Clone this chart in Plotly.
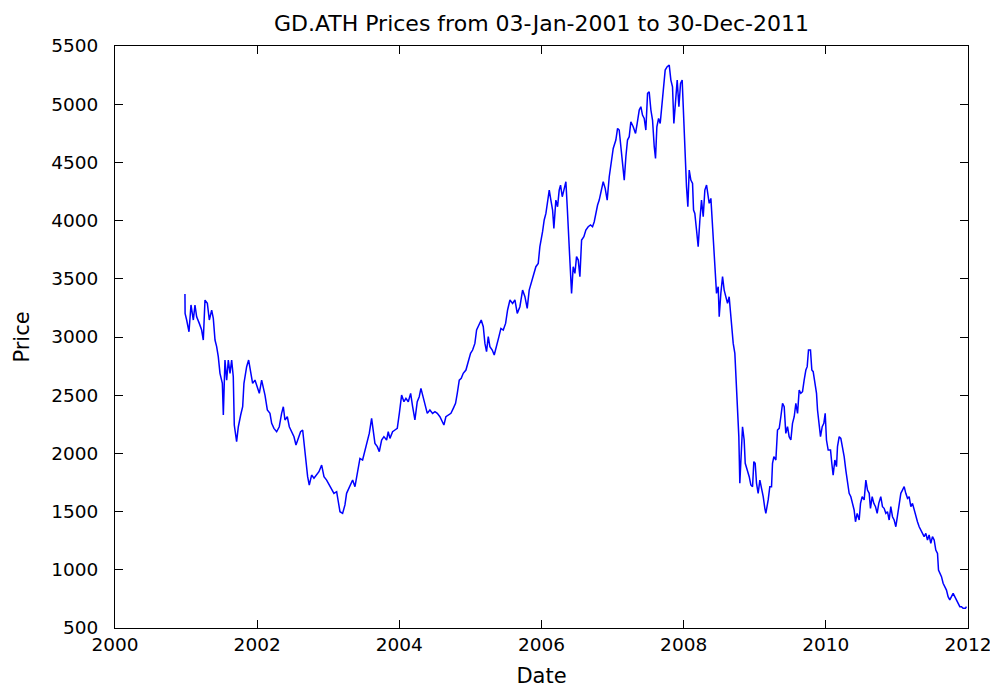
import plotly.graph_objects as go

# Decimal-year dates and closing prices
years = [
    2000.984, 2000.986, 2001.008, 2001.041, 2001.069, 2001.102, 2001.125, 2001.149, 2001.186, 2001.219,
    2001.242, 2001.266, 2001.299, 2001.327, 2001.360, 2001.383, 2001.407, 2001.430, 2001.453, 2001.477,
    2001.510, 2001.524, 2001.533, 2001.547, 2001.571, 2001.594, 2001.618, 2001.641, 2001.664, 2001.678,
    2001.711, 2001.735, 2001.768, 2001.796, 2001.814, 2001.852, 2001.880, 2001.908, 2001.936, 2001.969,
    2002.002, 2002.030, 2002.063, 2002.086, 2002.110, 2002.143, 2002.180, 2002.204, 2002.236, 2002.274,
    2002.311, 2002.344, 2002.368, 2002.391, 2002.424, 2002.452, 2002.485, 2002.518, 2002.546, 2002.579,
    2002.611, 2002.640, 2002.658, 2002.686, 2002.710, 2002.733, 2002.766, 2002.799, 2002.836, 2002.869,
    2002.907, 2002.940, 2002.977, 2003.015, 2003.047, 2003.080, 2003.118, 2003.141, 2003.165, 2003.202,
    2003.220, 2003.235,
    2003.258, 2003.305, 2003.343, 2003.376, 2003.399, 2003.422, 2003.446, 2003.483, 2003.516, 2003.540,
    2003.577, 2003.610, 2003.633, 2003.657, 2003.690, 2003.718, 2003.751, 2003.783, 2003.821, 2003.844,
    2003.868, 2003.905, 2003.938, 2003.971, 2004.000, 2004.032, 2004.065, 2004.093, 2004.126, 2004.159,
    2004.187, 2004.219, 2004.252, 2004.280, 2004.304, 2004.337, 2004.365, 2004.393, 2004.430, 2004.468,
    2004.501, 2004.534, 2004.571, 2004.609, 2004.627, 2004.655, 2004.688, 2004.726, 2004.759, 2004.791,
    2004.815, 2004.843, 2004.871, 2004.899, 2004.937, 2004.970, 2005.002, 2005.031, 2005.063, 2005.087,
    2005.124, 2005.152, 2005.181, 2005.204, 2005.227, 2005.251, 2005.274, 2005.307, 2005.335, 2005.368,
    2005.401, 2005.429, 2005.462, 2005.495, 2005.523, 2005.556, 2005.593, 2005.626, 2005.659, 2005.696,
    2005.734, 2005.767, 2005.799, 2005.827, 2005.860, 2005.884, 2005.921, 2005.954, 2005.977,
    2006.015, 2006.038, 2006.062, 2006.085, 2006.109, 2006.132, 2006.156, 2006.174, 2006.202, 2006.226,
    2006.249, 2006.268, 2006.292, 2006.315, 2006.343, 2006.362, 2006.381, 2006.399, 2006.423, 2006.446,
    2006.470, 2006.493, 2006.517, 2006.540, 2006.564, 2006.596, 2006.624, 2006.657, 2006.690, 2006.718,
    2006.742, 2006.765, 2006.789, 2006.812, 2006.845, 2006.868, 2006.896, 2006.924, 2006.953, 2006.985,
    2007.009, 2007.046, 2007.070, 2007.093, 2007.117, 2007.140, 2007.164, 2007.187, 2007.210, 2007.234,
    2007.257, 2007.290, 2007.323, 2007.346, 2007.375, 2007.398, 2007.421, 2007.445, 2007.468, 2007.492,
    2007.515, 2007.539, 2007.562, 2007.586, 2007.604, 2007.623, 2007.647, 2007.670, 2007.693, 2007.717,
    2007.740, 2007.768, 2007.797, 2007.820, 2007.843, 2007.862, 2007.886, 2007.909, 2007.933, 2007.956,
    2007.979, 2007.998, 2008.021, 2008.040, 2008.059, 2008.078, 2008.101, 2008.125, 2008.139, 2008.157,
    2008.181, 2008.204, 2008.228, 2008.251, 2008.275, 2008.298, 2008.322, 2008.359,
    2008.383, 2008.401, 2008.415, 2008.439, 2008.462, 2008.486, 2008.500, 2008.523, 2008.547, 2008.570,
    2008.594, 2008.617, 2008.640, 2008.659, 2008.678, 2008.697, 2008.720, 2008.744, 2008.758, 2008.776,
    2008.790, 2008.814, 2008.828, 2008.851, 2008.866, 2008.894, 2008.922, 2008.945, 2008.969, 2008.987,
    2009.006, 2009.025, 2009.048, 2009.072, 2009.095, 2009.119, 2009.142, 2009.156, 2009.189, 2009.212,
    2009.236, 2009.250, 2009.269, 2009.297, 2009.320, 2009.344, 2009.367, 2009.391, 2009.414, 2009.437,
    2009.461, 2009.484, 2009.508, 2009.531, 2009.555, 2009.578, 2009.602, 2009.625, 2009.648, 2009.672,
    2009.695, 2009.719, 2009.738, 2009.756, 2009.784, 2009.803, 2009.822, 2009.845, 2009.869, 2009.883,
    2009.902, 2009.925, 2009.949, 2009.972, 2009.991, 2010.009, 2010.033,
    2010.066, 2010.084, 2010.103, 2010.127, 2010.150, 2010.164, 2010.188, 2010.211, 2010.234, 2010.258,
    2010.281, 2010.305, 2010.328, 2010.352, 2010.375, 2010.398, 2010.417, 2010.441, 2010.469, 2010.488,
    2010.511, 2010.539, 2010.563, 2010.586, 2010.610, 2010.628, 2010.652, 2010.675, 2010.699, 2010.722,
    2010.745, 2010.773, 2010.797, 2010.820, 2010.844, 2010.867, 2010.891, 2010.914, 2010.938, 2010.961,
    2010.985, 2011.008, 2011.031, 2011.055, 2011.078, 2011.102, 2011.125, 2011.149, 2011.172, 2011.196,
    2011.219, 2011.242, 2011.266, 2011.289, 2011.313, 2011.336, 2011.360, 2011.383, 2011.407, 2011.430,
    2011.453, 2011.477, 2011.500, 2011.524, 2011.547, 2011.571, 2011.585, 2011.603, 2011.627, 2011.650,
    2011.674, 2011.697, 2011.720, 2011.744, 2011.767, 2011.791, 2011.814, 2011.838, 2011.861, 2011.885,
    2011.908, 2011.931, 2011.964, 2011.978,
]

prices = [
    3369, 3203, 3146, 3045, 3275, 3146, 3275, 3174, 3117, 3060,
    2974, 3317, 3289, 3146, 3231, 3160, 2974, 2917, 2831, 2688,
    2602, 2330, 2516, 2802, 2630, 2802, 2688, 2802, 2659, 2244,
    2101, 2229, 2330, 2401, 2602, 2745, 2802, 2716, 2602, 2630,
    2573, 2516, 2630, 2573, 2501, 2373, 2344, 2258, 2215, 2186,
    2229, 2344, 2401, 2287, 2315, 2229, 2186, 2143, 2072, 2129,
    2186, 2201, 2086, 1943, 1800, 1728, 1814, 1786, 1814, 1843,
    1900, 1800, 1771, 1728, 1700, 1657, 1671, 1600, 1499, 1485,
    1530, 1557,
    1657, 1714, 1771, 1714, 1800, 1886, 1957, 1943, 2029, 2101,
    2172, 2301, 2172, 2086, 2058, 2015, 2115, 2144, 2115, 2186,
    2129, 2186, 2201, 2215, 2344, 2501, 2444, 2473, 2444, 2516,
    2401, 2287, 2444, 2487, 2559, 2487, 2416, 2344, 2373, 2344,
    2358, 2344, 2315, 2272, 2244, 2315, 2330, 2344, 2387, 2430,
    2516, 2630, 2645, 2688, 2716, 2802, 2859, 2888, 2945, 3060,
    3117, 3146, 3088, 2945, 2874, 3003, 2917, 2888, 2845, 2917,
    3003, 3074, 3060, 3117, 3232, 3318, 3289, 3318, 3203, 3260,
    3403, 3346, 3246, 3403, 3475, 3518, 3604, 3632, 3776,
    3905, 4005, 4062, 4148, 4262, 4176, 4091, 3933, 4176, 4119,
    4262, 4305, 4205, 4262, 4334, 4119, 3833, 3661, 3375, 3604,
    3547, 3690, 3661, 3518, 3833, 3862, 3919, 3947, 3962, 3947,
    3990, 4076, 4134, 4176, 4291, 4334, 4277, 4176, 4377, 4520,
    4620, 4692, 4792, 4778, 4635, 4463, 4348, 4549, 4692, 4721,
    4849, 4806, 4749, 4835, 4950, 4978, 4907, 4878, 4778, 5093,
    5107, 4950, 4864, 4635, 4534, 4806, 4878, 4835, 5007, 5136,
    5293, 5322, 5336, 5207, 5150, 4835, 5036, 5207, 4978, 5179,
    5207, 4864, 4520, 4291, 4119, 4434, 4348, 4320, 4091, 4062,
    3919, 3776, 4005, 4176, 4033, 4262, 4305, 4148,
    4191, 4005, 3905, 3575, 3375, 3432, 3174, 3375, 3518, 3403,
    3346, 3289, 3346, 3203, 3089, 2945, 2859, 2573, 2458, 2144,
    1743, 2086, 2229, 2115, 1915, 1857, 1800, 1729, 1714, 1929,
    1915, 1743, 1657, 1771, 1714, 1628, 1528, 1485, 1600, 1714,
    1714, 1915, 1972, 1943, 2201, 2215, 2315, 2430, 2401, 2172,
    2229, 2144, 2115, 2258, 2315, 2430, 2344, 2544, 2516, 2530,
    2630, 2716, 2745, 2888, 2888, 2716, 2702, 2602, 2516, 2373,
    2258, 2144, 2229, 2258, 2344, 2115, 2029,
    2029, 1915, 1814, 1943, 1886, 2058, 2144, 2129, 2058, 1972,
    1857, 1743, 1657, 1628, 1571, 1514, 1413, 1485, 1428, 1571,
    1628, 1600, 1771, 1685, 1657, 1528, 1628, 1571, 1542, 1485,
    1571, 1628, 1542, 1528, 1485, 1499, 1428, 1542, 1456, 1428,
    1370, 1456, 1542, 1657, 1685, 1714, 1657, 1614, 1628, 1542,
    1571, 1514, 1456, 1413, 1370, 1342, 1313, 1285, 1313, 1256,
    1299, 1227, 1285, 1256, 1170, 1141, 998, 970, 941, 884,
    855, 826, 769, 741, 769, 798, 769, 741, 712, 683,
    683, 669, 669, 683,
]

x_ticks = [2000, 2002, 2004, 2006, 2008, 2010, 2012]
y_ticks = [500, 1000, 1500, 2000, 2500, 3000, 3500, 4000, 4500, 5000, 5500]

FONT = "DejaVu Sans, Verdana, sans-serif"

fig = go.Figure()
fig.add_trace(go.Scatter(
    x=years, y=prices, mode="lines",
    line=dict(color="#0000ff", width=1.5),
    showlegend=False,
))

axis_common = dict(
    showgrid=False, zeroline=False,
    showline=True, linecolor="black", linewidth=1,
    mirror="ticks", ticks="inside", ticklen=8, tickwidth=1, tickcolor="black",
    tickfont=dict(family=FONT, size=18.5, color="black"),
)

# The page body has an 8px margin, so the figure is sized/offset for it
fig.update_layout(
    width=990, height=683,
    paper_bgcolor="white", plot_bgcolor="white",
    margin=dict(l=107, r=30, t=38, b=63, autoexpand=False),
    title=dict(
        text="GD.ATH Prices from 03-Jan-2001 to 30-Dec-2011",
        x=0.5, xref="paper", y=1 - 15 / 683, yref="container",
        xanchor="center", yanchor="middle",
        font=dict(family=FONT, size=22, color="black"),
    ),
    xaxis=dict(
        range=[2000, 2012], tickvals=x_ticks, ticktext=[str(v) for v in x_ticks],
        ticklabelstandoff=0,
        title=dict(text="Date", standoff=14, font=dict(family=FONT, size=21, color="black")),
        **axis_common,
    ),
    yaxis=dict(
        range=[500, 5500], tickvals=y_ticks, ticktext=[str(v) for v in y_ticks],
        ticklabelstandoff=12,
        title=dict(text="Price", standoff=15, font=dict(family=FONT, size=21, color="black")),
        **axis_common,
    ),
)

fig.write_html("out.html")
